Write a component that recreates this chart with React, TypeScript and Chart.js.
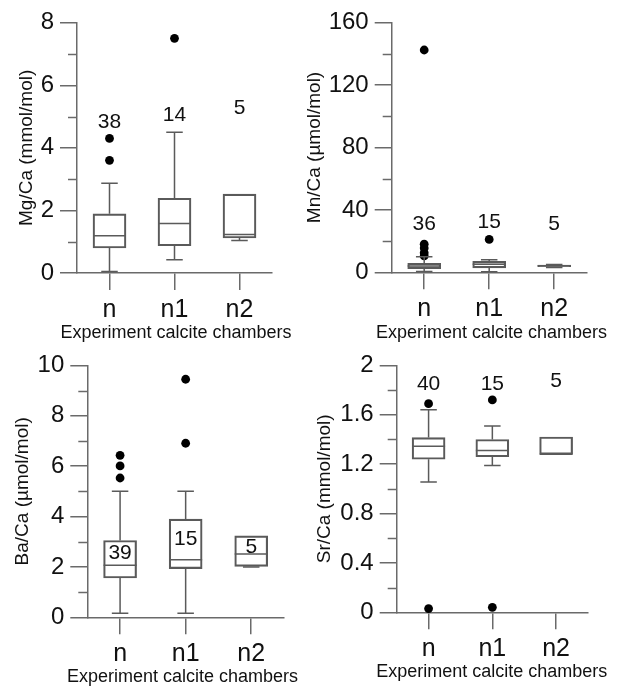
import React, { useEffect, useRef } from 'react';
import { Chart, registerables } from 'chart.js';

Chart.register(...registerables);

const FONT = '"Liberation Sans", Arial, Helvetica, sans-serif';
const AXIS = '#6a6a6a';
const BOX = '#5a5a5a';
const TEXT = '#111111';

const categories = ['n', 'n1', 'n2'];
const xTitle = 'Experiment calcite chambers';

// Mg/Ca (mmol/mol)
const mgMin = [0.05, 0.42, 1.04];
const mgQ1 = [0.8, 0.87, 1.12];
const mgMedian = [1.19, 1.58, 1.23];
const mgQ3 = [1.89, 2.39, 2.52];
const mgMax = [2.87, 4.5, 2.52];
const mgOutliers = [[3.6, 4.3], [7.5], []];
const mgCounts = ['38', '14', '5'];
const mgCountAt = [4.81, 5.05, 5.26];

// Mn/Ca (µmol/mol)
const mnMin = [0.5, 0.4, 3.0];
const mnQ1 = [2.4, 2.8, 3.6];
const mnMedian = [4.0, 5.1, 4.2];
const mnQ3 = [5.8, 7.0, 4.7];
const mnMax = [10.0, 8.0, 5.0];
const mnOutliers = [[10.5, 12.5, 15.5, 18.0, 142.5], [21.1], []];
const mnCounts = ['36', '15', '5'];
const mnCountAt = [30.8, 31.8, 30.8];

// Ba/Ca (µmol/mol)
const baMin = [0.16, 0.16, 2.0];
const baQ1 = [1.56, 1.93, 2.02];
const baMedian = [2.07, 2.28, 2.51];
const baQ3 = [3.05, 3.9, 3.23];
const baMax = [5.0, 5.0, 3.23];
const baOutliers = [[5.53, 6.01, 6.43], [6.91, 9.45], []];
const baCounts = ['39', '15', '5'];
const baCountAt = [2.54, 3.1, 2.8];

// Sr/Ca (mmol/mol)
const srMin = [1.056, 1.19, 1.28];
const srQ1 = [1.24, 1.26, 1.28];
const srMedian = [1.345, 1.31, 1.28];
const srQ3 = [1.415, 1.4, 1.42];
const srMax = [1.64, 1.51, 1.42];
const srOutliers = [[1.69, 0.03], [1.72, 0.04], []];
const srCounts = ['40', '15', '5'];
const srCountAt = [1.85, 1.85, 1.87];

type Panel = {
  yTitle: string;
  yMax: number;
  major: number;
  minor: number;
  min: number[];
  q1: number[];
  med: number[];
  q3: number[];
  max: number[];
  outliers: number[][];
  counts: string[];
  countAt: number[];
  x: number;
  y: number;
  w: number;
  h: number;
  left: number;
  right: number;
  top: number;
  bottom: number;
  yTitleCenter: number;
  xTitleCenter: number;
  xTitleX: number;
};

const panels: Panel[] = [
  {
    yTitle: 'Mg/Ca (mmol/mol)', yMax: 8, major: 2, minor: 1,
    min: mgMin, q1: mgQ1, med: mgMedian, q3: mgQ3, max: mgMax,
    outliers: mgOutliers, counts: mgCounts, countAt: mgCountAt,
    x: 0, y: 0, w: 312, h: 345, left: 77, right: 272, top: 22.7, bottom: 273,
    yTitleCenter: 27, xTitleCenter: 333, xTitleX: 176,
  },
  {
    yTitle: 'Mn/Ca (µmol/mol)', yMax: 160, major: 40, minor: 20,
    min: mnMin, q1: mnQ1, med: mnMedian, q3: mnQ3, max: mnMax,
    outliers: mnOutliers, counts: mnCounts, countAt: mnCountAt,
    x: 300, y: 0, w: 320, h: 345, left: 91.7, right: 286.7, top: 22.7, bottom: 272.3,
    yTitleCenter: 15, xTitleCenter: 333, xTitleX: 191.5,
  },
  {
    yTitle: 'Ba/Ca (µmol/mol)', yMax: 10, major: 2, minor: 1,
    min: baMin, q1: baQ1, med: baMedian, q3: baQ3, max: baMax,
    outliers: baOutliers, counts: baCounts, countAt: baCountAt,
    x: 0, y: 345, w: 312, h: 342, left: 87.3, right: 284, top: 20, bottom: 272.3,
    yTitleCenter: 23, xTitleCenter: 331.7, xTitleX: 182.5,
  },
  {
    yTitle: 'Sr/Ca (mmol/mol)', yMax: 2, major: 0.4, minor: 0.2,
    min: srMin, q1: srQ1, med: srMedian, q3: srQ3, max: srMax,
    outliers: srOutliers, counts: srCounts, countAt: srCountAt,
    x: 300, y: 345, w: 320, h: 342, left: 96.7, right: 288, top: 20, bottom: 267.3,
    yTitleCenter: 25, xTitleCenter: 326.7, xTitleX: 191.7,
  },
];

const X_TITLE_SIZE = 18;
const Y_TITLE_SIZE = 19;
const Y_TITLE_HALF = (Y_TITLE_SIZE * 1.2) / 2;

function BoxChart({ p }: { p: Panel }) {
  const ref = useRef<HTMLCanvasElement | null>(null);

  useEffect(() => {
    if (!ref.current) return;
    const outlierPoints = p.outliers.flatMap((arr, i) =>
      arr.map((v) => ({ x: categories[i], y: v }))
    );

    const boxPlugin = {
      id: 'boxParts',
      afterDraw(chart: any) {
        const ctx = chart.ctx;
        const ys = chart.scales.y;
        const area = chart.chartArea;
        ctx.save();
        ctx.strokeStyle = AXIS;
        ctx.lineWidth = 1.5;
        const ax = area.left;
        const nSteps = Math.round(p.yMax / p.minor);
        for (let k = 1; k < nSteps; k++) {
          const v = k * p.minor;
          const ratio = v / p.major;
          if (Math.abs(ratio - Math.round(ratio)) < 1e-6) continue;
          const py = Math.round(ys.getPixelForValue(v)) + 0.5;
          ctx.beginPath();
          ctx.moveTo(ax, py);
          ctx.lineTo(ax - 9, py);
          ctx.stroke();
        }
        ctx.fillStyle = TEXT;
        ctx.font = `${X_TITLE_SIZE}px ${FONT}`;
        ctx.textAlign = 'center';
        ctx.textBaseline = 'middle';
        ctx.fillText(xTitle, p.xTitleX, p.xTitleCenter);
        ctx.restore();
      },
      afterDatasetDraw(chart: any, args: any) {
        if (args.index !== 0) return;
        const ctx = chart.ctx;
        const ys = chart.scales.y;
        const meta = chart.getDatasetMeta(0);
        ctx.save();
        ctx.strokeStyle = BOX;
        ctx.lineWidth = 1.5;
        meta.data.forEach((bar: any, i: number) => {
          const cx = bar.x;
          const half = bar.width / 2;
          const yMed = ys.getPixelForValue(p.med[i]);
          const yQ1 = ys.getPixelForValue(p.q1[i]);
          const yQ3 = ys.getPixelForValue(p.q3[i]);
          const yLo = ys.getPixelForValue(p.min[i]);
          const yHi = ys.getPixelForValue(p.max[i]);
          ctx.beginPath();
          ctx.moveTo(cx - half, yMed);
          ctx.lineTo(cx + half, yMed);
          ctx.stroke();
          if (p.max[i] > p.q3[i]) {
            ctx.beginPath();
            ctx.moveTo(cx, yQ3);
            ctx.lineTo(cx, yHi);
            ctx.moveTo(cx - half / 2, yHi);
            ctx.lineTo(cx + half / 2, yHi);
            ctx.stroke();
          }
          if (p.min[i] < p.q1[i]) {
            ctx.beginPath();
            ctx.moveTo(cx, yQ1);
            ctx.lineTo(cx, yLo);
            ctx.moveTo(cx - half / 2, yLo);
            ctx.lineTo(cx + half / 2, yLo);
            ctx.stroke();
          }
        });
        ctx.restore();
      },
      afterDatasetsDraw(chart: any) {
        const ctx = chart.ctx;
        const xs = chart.scales.x;
        const ys = chart.scales.y;
        ctx.save();
        ctx.fillStyle = TEXT;
        ctx.font = `21px ${FONT}`;
        ctx.textAlign = 'center';
        ctx.textBaseline = 'middle';
        p.counts.forEach((c, i) => {
          ctx.fillText(c, xs.getPixelForValue(i), ys.getPixelForValue(p.countAt[i]));
        });
        ctx.restore();
      },
    };

    const chart = new Chart(ref.current, {
      type: 'bar',
      data: {
        labels: categories,
        datasets: [
          {
            type: 'bar',
            data: categories.map((_, i) => [p.q1[i], p.q3[i]]) as any,
            backgroundColor: 'rgba(255,255,255,0)',
            borderColor: BOX,
            borderWidth: 1.5,
            borderSkipped: false,
            barThickness: 33,
          } as any,
          {
            type: 'scatter',
            data: outlierPoints as any,
            backgroundColor: '#000',
            borderColor: '#000',
            borderWidth: 0,
            pointRadius: 4.4,
            clip: false,
          } as any,
        ],
      },
      options: {
        responsive: false,
        animation: false,
        devicePixelRatio: 1,
        events: [],
        layout: {
          padding: { left: 0, top: p.top, right: p.w - p.right, bottom: 0 },
        },
        plugins: {
          legend: { display: false },
          tooltip: { enabled: false },
        },
        scales: {
          x: {
            type: 'category',
            offset: true,
            grid: {
              drawOnChartArea: false,
              offset: false,
              tickLength: 17,
              color: AXIS,
              lineWidth: 1.5,
            },
            border: { color: AXIS, width: 1.5 },
            ticks: { font: { family: FONT, size: 25 }, color: TEXT, padding: 5 },
            title: { display: false },
            afterFit: (s: any) => {
              s.height = p.h - p.bottom;
            },
          },
          y: {
            type: 'linear',
            min: 0,
            max: p.yMax,
            ticks: {
              stepSize: p.major,
              font: { family: FONT, size: 24 },
              color: TEXT,
              padding: 6,
              callback: (v: any) => String(Math.round(Number(v) * 10) / 10),
            },
            grid: {
              drawOnChartArea: false,
              tickLength: 17,
              color: AXIS,
              lineWidth: 1.5,
            },
            border: { color: AXIS, width: 1.5 },
            title: {
              display: true,
              text: p.yTitle,
              font: { family: FONT, size: Y_TITLE_SIZE },
              color: TEXT,
              padding: { top: p.yTitleCenter - Y_TITLE_HALF, bottom: 0 },
            },
            afterFit: (s: any) => {
              s.width = p.left;
            },
          },
        },
      } as any,
      plugins: [boxPlugin],
    });

    return () => chart.destroy();
  }, [p]);

  return (
    <canvas
      ref={ref}
      width={p.w}
      height={p.h}
      style={{ position: 'absolute', left: p.x, top: p.y, width: p.w, height: p.h }}
    />
  );
}

export default function App() {
  return (
    <div
      style={{
        position: 'fixed',
        left: 0,
        top: 0,
        width: 620,
        height: 687,
        background: '#ffffff',
        overflow: 'hidden',
      }}
    >
      {panels.map((p, i) => (
        <BoxChart key={i} p={p} />
      ))}
    </div>
  );
}
